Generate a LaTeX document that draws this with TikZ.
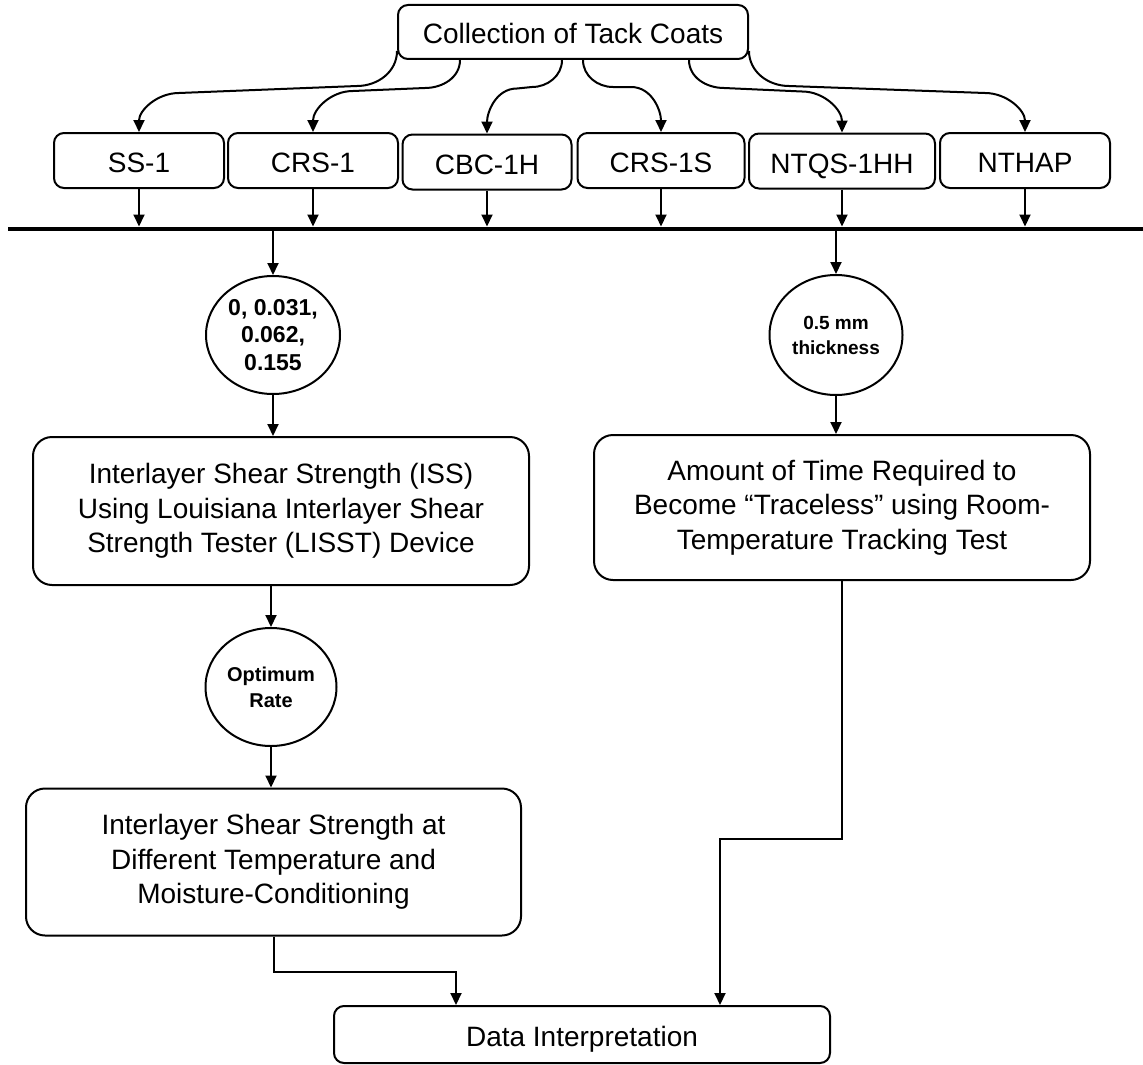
\documentclass[tikz,border=0pt]{standalone}
\usepackage{fontspec}
\setmainfont{Liberation Sans}
\usetikzlibrary{arrows.meta,shapes.geometric,calc}
\begin{document}
\begin{tikzpicture}[x=1pt,y=-1pt,
  box/.style={draw,line width=2pt,rounded corners=10pt,inner sep=0pt,align=center,font=\fontsize{28}{34.5}\selectfont},
  smallbox/.style={box,text height=24pt,text depth=0pt},
  bigbox/.style={box,rounded corners=19pt},
  oval/.style={draw,ellipse,line width=2pt,inner sep=0pt,align=center},
  conn/.style={line width=2pt,-{Triangle[length=12pt,width=11pt]}},
]
\useasboundingbox (0,0) rectangle (1143,1065);

% top
\node[smallbox,minimum width=350pt,minimum height=54pt] (top) at (573,32) {Collection of Tack Coats};

% tack coats
\node[smallbox,minimum width=170pt,minimum height=55pt] (ss) at (139,160.5) {SS-1};
\node[smallbox,minimum width=170pt,minimum height=55pt] (crs) at (313,160.5) {CRS-1};
\node[smallbox,minimum width=169pt,minimum height=55pt] (cbc) at (487,162) {CBC-1H};
\node[smallbox,minimum width=167pt,minimum height=55pt] (crss) at (661,160.5) {CRS-1S};
\node[smallbox,minimum width=186pt,minimum height=55pt] (ntqs) at (842,161) {NTQS-1HH};
\node[smallbox,minimum width=170pt,minimum height=55pt] (nthap) at (1025,160.5) {NTHAP};

% curved connectors
\draw[conn] ([yshift=9pt]top.south west) to[out=-90,in=0] ++(-40,35)
  -- ($(ss.north)+(40,-39)$) to[out=180,in=90] (ss.north);
\draw[conn] ([xshift=-113pt]top.south) to[out=-90,in=0] ++(-35,28)
  -- ($(crs.north)+(40,-41)$) to[out=180,in=90] (crs.north);
\draw[conn] ([xshift=-11pt]top.south) to[out=-90,in=0] ++(-30,27)
  -- ($(cbc.north)+(30,-45)$) to[out=180,in=90] (cbc.north);
\draw[conn] ([xshift=10pt]top.south) to[out=-90,in=180] ++(30,27)
  -- ($(crss.north)+(-30,-45)$) to[out=0,in=90] (crss.north);
\draw[conn] ([xshift=116pt]top.south) to[out=-90,in=180] ++(35,28)
  -- ($(ntqs.north)+(-40,-41)$) to[out=0,in=90] (ntqs.north);
\draw[conn] ([yshift=9pt]top.south east) to[out=-90,in=180] ++(40,35)
  -- ($(nthap.north)+(-40,-39)$) to[out=0,in=90] (nthap.north);

% bus
\coordinate (busL) at (8,229);
\coordinate (busR) at (1143,229);
\draw[line width=4.5pt] (busL) -- (busR);
\foreach \n in {ss,crs,cbc,crss,ntqs,nthap}
  \draw[conn] (\n.south) -- ($(\n.south |- busL)+(0,-2.5)$);

% left branch
\node[oval,minimum width=134pt,minimum height=118pt,font=\bfseries\fontsize{23}{27.5}\selectfont] (e1) at (273,335) {0, 0.031,\\0.062,\\0.155};
\node[bigbox,minimum width=496pt,minimum height=148pt] (iss) at (281,511) {Interlayer Shear Strength (ISS)\\Using Louisiana Interlayer Shear\\Strength Tester (LISST) Device};
\node[oval,minimum width=131pt,minimum height=118pt,font=\bfseries\fontsize{20}{26}\selectfont] (e3) at (271,687) {Optimum\\Rate};
\node[bigbox,minimum width=495pt,minimum height=147pt] (low) at (273.5,862) {Interlayer Shear Strength at\\Different Temperature and\\Moisture-Conditioning};

% right branch
\node[oval,minimum width=133pt,minimum height=120pt,font=\bfseries\fontsize{19}{25}\selectfont] (e2) at (836,335) {0.5 mm\\thickness};
\node[bigbox,minimum width=496pt,minimum height=145pt] (amt) at (842,507.5) {Amount of Time Required to\\Become “Traceless” using Room-\\Temperature Tracking Test};

% data
\node[smallbox,minimum width=496pt,minimum height=57pt] (data) at (582,1034.5) {Data Interpretation};

% vertical connectors
\draw[conn] (e1.north |- busL) -- (e1.north);
\draw[conn] (e2.north |- busL) -- (e2.north);
\draw[conn] (e1.south) -- (e1.south |- iss.north);
\draw[conn] (e2.south) -- (e2.south |- amt.north);
\draw[conn] (e3.north |- iss.south) -- (e3.north);
\draw[conn] (e3.south) -- (e3.south |- low.north);
\draw[conn] (low.south) -- ++(0,35) -| ([xshift=-126pt]data.north);
\draw[conn] (amt.south) -- ++(0,257.5) -| ([xshift=138pt]data.north);
\end{tikzpicture}
\end{document}
